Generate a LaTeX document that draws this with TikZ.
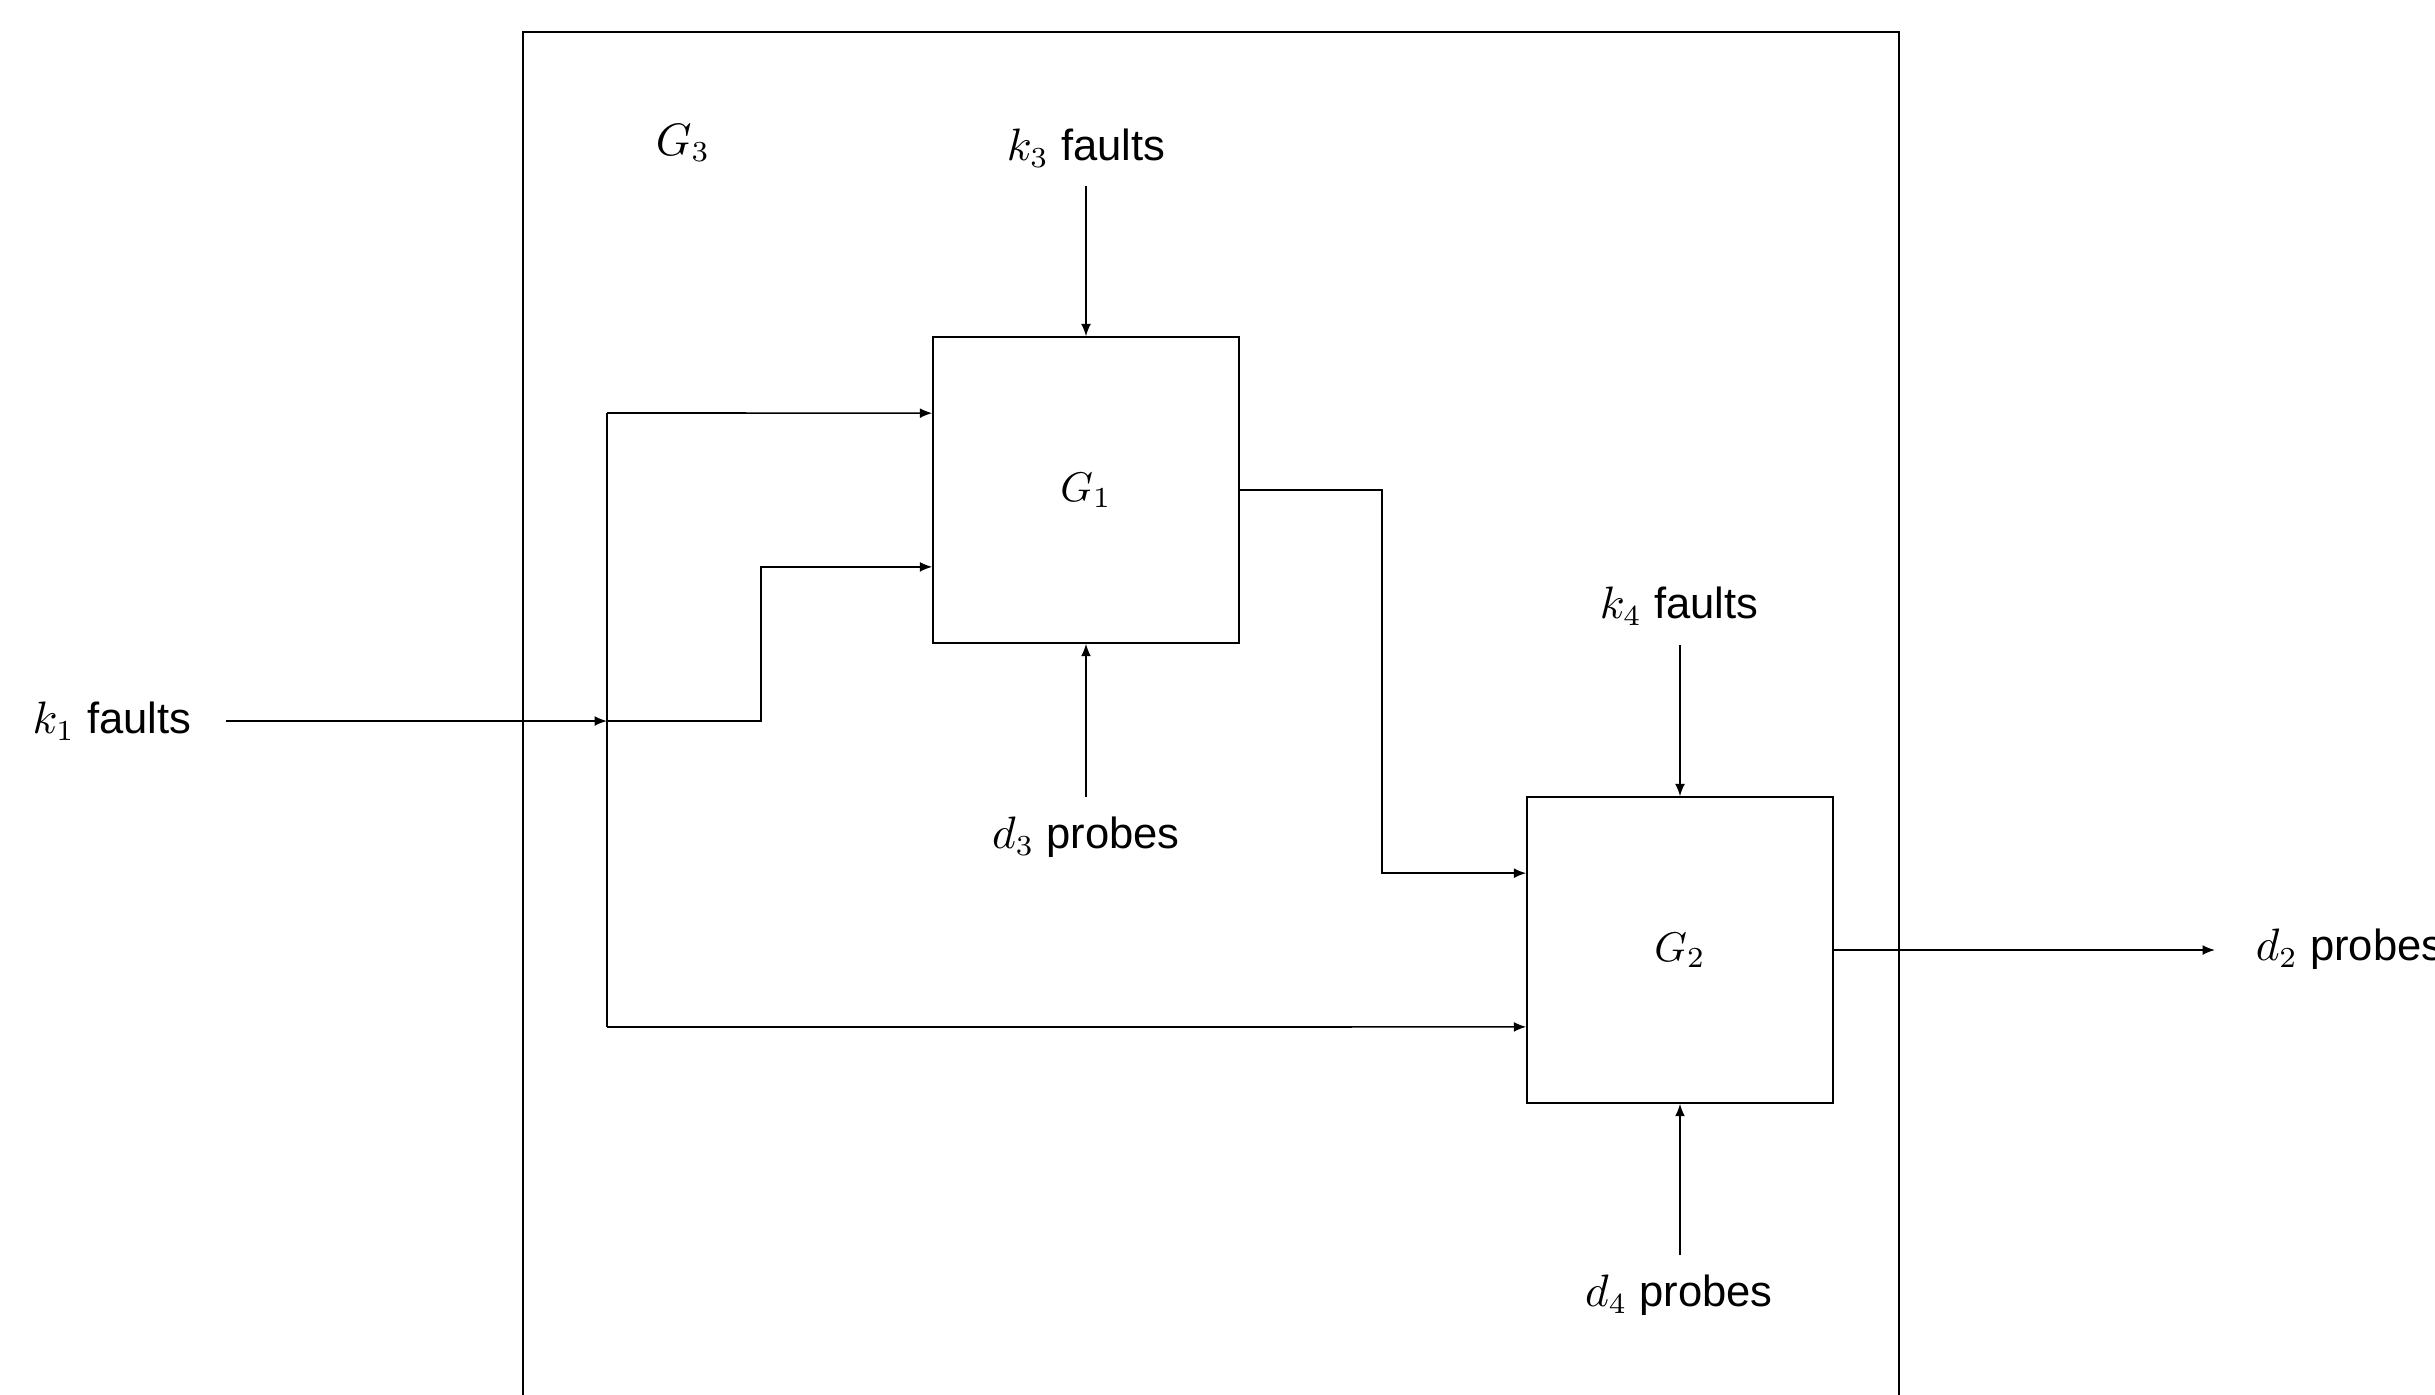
\documentclass[tikz,border=0pt]{standalone}
\usepackage{fontspec}
\setmainfont{Liberation Sans}
\usetikzlibrary{arrows.meta,calc}
\tikzset{
  arr/.style={-{Latex[length=3pt,width=2.4pt]}, line width=0.4pt},
  conn/.style={line width=0.4pt},
  blockbox/.style={draw, line width=0.4pt, minimum width=73.7pt, minimum height=73.7pt, inner sep=0pt},
  lbl/.style={inner sep=0pt, font=\fontsize{10.5pt}{12pt}\selectfont},
}
\begin{document}
\begin{tikzpicture}[x=0.241pt,y=-0.241pt]
\useasboundingbox (0,0) rectangle (2435,1394);
\clip (0,0) rectangle (2435,1394);
% outer frame G3
\node[draw, line width=0.4pt, inner sep=0pt, anchor=north west, minimum width=331.6pt, minimum height=342pt] (g3) at (522,31) {};
\node[lbl] (g3l) at (683,143) {$G_3$};
% blocks
\node[blockbox] (g1) at (1086,490) {$G_1$};
\node[blockbox] (g2) at (1680,950) {$G_2$};
% labels
\node[lbl] (k1) at (112,721) {$k_1$ faults};
\node[lbl] (k3) at (1086,148) {$k_3$ faults};
\node[lbl] (d3) at (1086,837) {$d_3$ probes};
\node[lbl] (k4) at (1679,606) {$k_4$ faults};
\node[lbl] (d4) at (1679,1295) {$d_4$ probes};
\node[lbl, anchor=west] (d2) at (2255,949) {$d_2$ probes};
% coordinates
\coordinate (k1s) at (226,721);
\coordinate (bm) at (607,721);
\coordinate (bt) at (607,413);
\coordinate (bb) at (607,1027);
\coordinate (mid) at (761,721);
\coordinate (g1a) at ($(g1.north west)!0.25!(g1.south west)$);
\coordinate (g1b) at ($(g1.north west)!0.75!(g1.south west)$);
\coordinate (g2a) at ($(g2.north west)!0.25!(g2.south west)$);
\coordinate (g2b) at ($(g2.north west)!0.75!(g2.south west)$);
\coordinate (turn) at (1382,490);
\coordinate (k3s) at (1086,186);
\coordinate (d3s) at (1086,797);
\coordinate (k4s) at (1680,645);
\coordinate (d4s) at (1680,1255);
\coordinate (d2e) at (2215,950);
% connectors
\draw[arr] (k1s) -- (bm);
\draw[conn] (bt) -- (bb);
\draw[arr] (bt) -- (g1a);
\draw[arr] (bm) -- (mid) |- (g1b);
\draw[arr] (bb) -- (g2b);
\draw[arr] (g1.east) -- (turn) |- (g2a);
\draw[arr] (k3s) -- (g1.north);
\draw[arr] (d3s) -- (g1.south);
\draw[arr] (k4s) -- (g2.north);
\draw[arr] (d4s) -- (g2.south);
\draw[arr] (g2.east) -- (d2e);
\end{tikzpicture}
\end{document}
